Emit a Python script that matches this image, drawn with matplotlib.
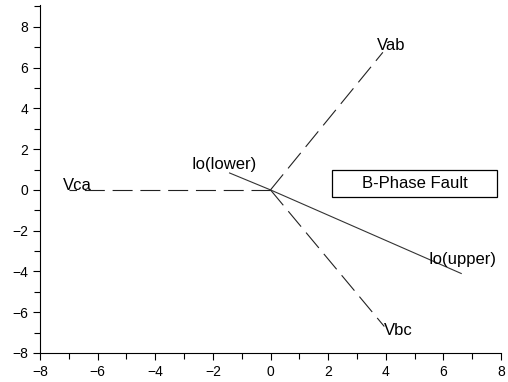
import matplotlib
matplotlib.use("Agg")
import matplotlib.pyplot as plt
from matplotlib.ticker import MultipleLocator
from matplotlib.patches import Rectangle

plt.rcParams['font.family'] = ['Liberation Sans', 'DejaVu Sans']

# phasor end points (start at origin)
volt_names = ["Vab", "Vbc", "Vca"]
volt_x = [3.9, 3.95, -7.0]
volt_y = [6.75, -6.7, 0.0]
volt_label_x = [3.7, 3.95, -7.2]
volt_label_y = [7.1, -6.9, 0.2]

cur_names = ["Io(lower)", "Io(upper)"]
cur_x = [-1.42, 6.62]
cur_y = [0.83, -4.1]
cur_label_x = [-2.74, 5.5]
cur_label_y = [1.27, -3.4]

box_text = "B-Phase Fault"
box_x = [2.15, 7.87]
box_y = [-0.34, 0.98]
ticks = [-8, -6, -4, -2, 0, 2, 4, 6, 8]

fig = plt.figure(figsize=(5.08, 3.82), dpi=100)
ax = fig.add_axes([40/508, 1-353/382, 461/508, 348/382])

for x, y in zip(volt_x, volt_y):
    ax.plot([0, x], [0, y], color='#222222', lw=0.8, dashes=[18, 7])
for x, y in zip(cur_x, cur_y):
    ax.plot([0, x], [0, y], color='#333333', lw=0.8)

for n, x, y in zip(volt_names, volt_label_x, volt_label_y):
    ax.text(x, y, n, fontsize=12, ha='left', va='center')
for n, x, y in zip(cur_names, cur_label_x, cur_label_y):
    ax.text(x, y, n, fontsize=12, ha='left', va='center')

ax.add_patch(Rectangle((box_x[0], box_y[0]), box_x[1]-box_x[0], box_y[1]-box_y[0],
                       fc='white', ec='black', lw=0.9, zorder=3))
ax.text((box_x[0]+box_x[1])/2, 0.29, box_text, fontsize=12, ha='center', va='center', zorder=4)

ax.set_xlim(-8, 8)
ax.set_ylim(-8, 9.07)
ax.set_xticks(ticks)
ax.set_yticks(ticks)
ax.xaxis.set_minor_locator(MultipleLocator(1))
ax.yaxis.set_minor_locator(MultipleLocator(1))
ax.tick_params(which='both', direction='out', labelsize=10, width=0.8)
ax.tick_params(which='major', length=5)
ax.tick_params(which='minor', length=4)
ax.spines['top'].set_visible(False)
ax.spines['right'].set_visible(False)
ax.spines['left'].set_linewidth(0.8)
ax.spines['bottom'].set_linewidth(0.8)

fig.savefig("out.png", dpi=100)
